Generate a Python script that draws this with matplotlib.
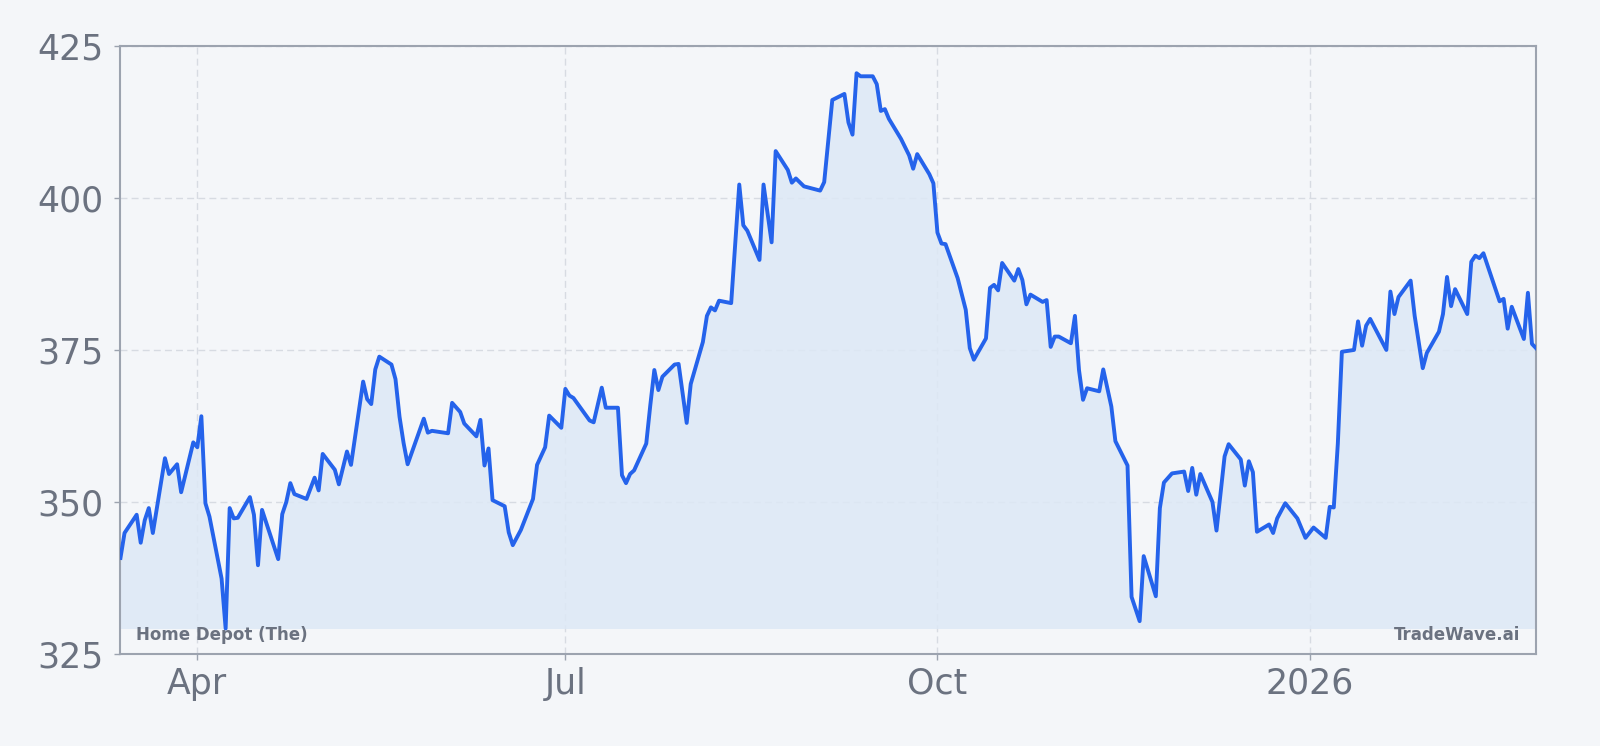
import matplotlib
matplotlib.use("Agg")
import matplotlib.pyplot as plt
import pandas as pd
import numpy as np

dates = [
    "2025-03-13", "2025-03-14", "2025-03-17", "2025-03-18", "2025-03-19", "2025-03-20", "2025-03-21",
    "2025-03-24", "2025-03-25", "2025-03-27", "2025-03-28", "2025-03-31",
    "2025-04-01", "2025-04-02", "2025-04-03", "2025-04-04", "2025-04-07", "2025-04-08", "2025-04-09",
    "2025-04-10", "2025-04-11", "2025-04-14", "2025-04-15", "2025-04-16", "2025-04-17",
    "2025-04-21", "2025-04-22", "2025-04-23", "2025-04-24", "2025-04-25", "2025-04-28", "2025-04-30",
    "2025-05-01", "2025-05-02", "2025-05-05", "2025-05-06", "2025-05-08", "2025-05-09",
    "2025-05-12", "2025-05-13", "2025-05-14", "2025-05-15", "2025-05-16", "2025-05-19", "2025-05-20",
    "2025-05-21", "2025-05-22", "2025-05-23", "2025-05-27", "2025-05-28", "2025-05-29",
    "2025-06-02", "2025-06-03", "2025-06-05", "2025-06-06", "2025-06-09", "2025-06-10", "2025-06-11",
    "2025-06-12", "2025-06-13", "2025-06-16", "2025-06-17", "2025-06-18", "2025-06-20",
    "2025-06-23", "2025-06-24", "2025-06-26", "2025-06-27", "2025-06-30",
    "2025-07-01", "2025-07-02", "2025-07-03", "2025-07-07", "2025-07-08", "2025-07-10", "2025-07-11",
    "2025-07-14", "2025-07-15", "2025-07-16", "2025-07-17", "2025-07-18", "2025-07-21", "2025-07-22",
    "2025-07-23", "2025-07-24", "2025-07-25", "2025-07-28", "2025-07-29", "2025-07-31",
    "2025-08-01", "2025-08-04", "2025-08-05", "2025-08-06", "2025-08-07", "2025-08-08", "2025-08-11",
    "2025-08-13", "2025-08-14", "2025-08-15", "2025-08-18", "2025-08-19", "2025-08-21", "2025-08-22",
    "2025-08-25", "2025-08-26", "2025-08-27", "2025-08-29",
    "2025-09-02", "2025-09-03", "2025-09-05", "2025-09-08", "2025-09-09", "2025-09-10", "2025-09-11",
    "2025-09-12", "2025-09-15", "2025-09-16", "2025-09-17", "2025-09-18", "2025-09-19", "2025-09-22",
    "2025-09-24", "2025-09-25", "2025-09-26", "2025-09-29", "2025-09-30",
    "2025-10-01", "2025-10-02", "2025-10-03", "2025-10-06", "2025-10-08", "2025-10-09", "2025-10-10",
    "2025-10-13", "2025-10-14", "2025-10-15", "2025-10-16", "2025-10-17", "2025-10-20", "2025-10-21",
    "2025-10-22", "2025-10-23", "2025-10-24", "2025-10-27", "2025-10-28", "2025-10-29", "2025-10-30",
    "2025-10-31",
    "2025-11-03", "2025-11-04", "2025-11-05", "2025-11-06", "2025-11-07", "2025-11-10", "2025-11-11",
    "2025-11-13", "2025-11-14", "2025-11-17", "2025-11-18", "2025-11-20", "2025-11-21", "2025-11-24",
    "2025-11-25", "2025-11-26", "2025-11-28",
    "2025-12-01", "2025-12-02", "2025-12-03", "2025-12-04", "2025-12-05", "2025-12-08", "2025-12-09",
    "2025-12-11", "2025-12-12", "2025-12-15", "2025-12-16", "2025-12-17", "2025-12-18", "2025-12-19",
    "2025-12-22", "2025-12-23", "2025-12-24", "2025-12-26", "2025-12-29", "2025-12-31",
    "2026-01-02", "2026-01-05", "2026-01-06", "2026-01-07", "2026-01-08", "2026-01-09", "2026-01-12",
    "2026-01-13", "2026-01-14", "2026-01-15", "2026-01-16", "2026-01-20", "2026-01-21", "2026-01-22",
    "2026-01-23", "2026-01-26", "2026-01-27", "2026-01-29", "2026-01-30",
    "2026-02-02", "2026-02-03", "2026-02-04", "2026-02-05", "2026-02-06", "2026-02-09", "2026-02-10",
    "2026-02-11", "2026-02-12", "2026-02-13", "2026-02-17", "2026-02-18", "2026-02-19", "2026-02-20",
    "2026-02-23", "2026-02-24", "2026-02-25", "2026-02-26",
]

prices = [
    340.8, 344.9, 347.9, 343.3, 347.0, 349.0, 344.9,
    357.2, 354.6, 356.2, 351.6, 359.8,
    359.0, 364.1, 349.8, 347.6, 337.4, 329.2, 349.0,
    347.3, 347.4, 350.8, 347.9, 339.6, 348.7,
    340.6, 348.0, 350.0, 353.1, 351.3, 350.5, 354.0,
    351.9, 357.9, 355.3, 352.9, 358.3, 356.1,
    369.8, 366.9, 366.1, 371.8, 373.9, 372.6, 370.2,
    364.0, 359.7, 356.2, 363.7, 361.4, 361.7,
    361.3, 366.3, 364.8, 362.9, 360.8, 363.5, 356.0,
    358.8, 350.3, 349.3, 345.0, 342.9, 345.4,
    350.5, 356.1, 359.0, 364.2, 362.2,
    368.6, 367.5, 367.1, 363.4, 363.1, 368.8, 365.5,
    365.5, 354.4, 353.1, 354.6, 355.2, 359.6, 365.9,
    371.7, 368.4, 370.6, 372.6, 372.7, 363.0,
    369.4, 376.3, 380.6, 382.0, 381.5, 383.1, 382.7,
    402.2, 395.5, 394.6, 389.8, 402.2, 392.7, 407.7,
    404.6, 402.5, 403.2, 401.9,
    401.2, 402.6, 416.1, 417.1, 412.4, 410.4, 420.5,
    420.0, 420.0, 418.7, 414.3, 414.6, 413.0, 409.7,
    407.0, 404.8, 407.2, 403.9, 402.4,
    394.3, 392.5, 392.4, 386.8, 381.6, 375.3, 373.4,
    376.9, 385.2, 385.7, 384.8, 389.3, 386.4, 388.3,
    386.5, 382.5, 384.1, 382.9, 383.2, 375.5, 377.2,
    377.2,
    376.1, 380.6, 371.7, 366.8, 368.7, 368.2, 371.8,
    365.7, 360.0, 356.0, 334.4, 330.4, 341.1, 334.5,
    349.0, 353.2, 354.7,
    355.0, 351.8, 355.6, 351.2, 354.6, 350.0, 345.3,
    357.5, 359.5, 357.0, 352.7, 356.7, 354.9, 345.1,
    346.3, 344.9, 347.3, 349.8, 347.3, 344.1,
    345.8, 344.1, 349.2, 349.1, 359.6, 374.7, 375.0,
    379.7, 375.7, 379.0, 380.1, 375.0, 384.6, 380.9,
    383.7, 386.4, 380.6, 372.0, 374.5,
    378.0, 380.9, 387.0, 382.2, 385.0, 380.9, 389.5,
    390.5, 390.1, 390.9, 383.0, 383.4, 378.5, 382.1,
    376.8, 384.4, 376.0, 375.3,
]

y_ticks = [325, 350, 375, 400, 425]
x_tick_dates = ["2025-04-01", "2025-07-01", "2025-10-01", "2026-01-01"]
x_tick_labels = ["Apr", "Jul", "Oct", "2026"]
name_label = "Home Depot (The)"
brand_label = "TradeWave.ai"

BG = "#f4f6f9"
LINE = "#2563eb"
FILL = "#dde8f6"
TEXT = "#6b7280"
SPINE = "#9ca3af"
GRID = "#d7dbe2"

x = pd.to_datetime(dates)
y = np.array(prices)

fig = plt.figure(figsize=(16, 7.46), dpi=100, facecolor=BG)
ax = fig.add_axes([0.0753, 0.1233, 0.8847, 0.8152])
ax.set_facecolor(BG)

ax.fill_between(x, y, y.min(), color=FILL, alpha=0.85, linewidth=0, zorder=1)
ax.plot(x, y, color=LINE, linewidth=2.8, zorder=3)

ax.set_xlim(x[0], x[-1])
ax.set_ylim(325, 425)
ax.set_yticks(y_ticks)
ax.set_xticks(pd.to_datetime(x_tick_dates))
ax.set_xticklabels(x_tick_labels)

ax.grid(True, color=GRID, linestyle=(0, (5, 3)), linewidth=1.0, zorder=0)
ax.set_axisbelow(True)

for s in ax.spines.values():
    s.set_color(SPINE)
    s.set_linewidth(1.5)

ax.tick_params(axis="both", colors=TEXT, labelsize=25, length=4, width=1, color=SPINE)
ax.tick_params(axis="y", pad=8)
ax.tick_params(axis="x", pad=5)

ax.text(0.011, 0.016, name_label, transform=ax.transAxes, fontsize=12, fontweight="bold",
        color=TEXT, ha="left", va="bottom", zorder=4)
ax.text(0.989, 0.016, brand_label, transform=ax.transAxes, fontsize=12, fontweight="bold",
        color=TEXT, ha="right", va="bottom", zorder=4)

fig.savefig("out.png", dpi=100, facecolor=BG)
